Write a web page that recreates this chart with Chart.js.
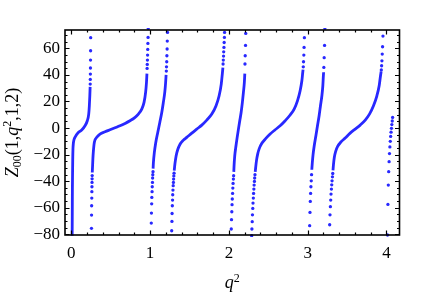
<!DOCTYPE html>
<html>
<head>
<meta charset="utf-8">
<script src="https://cdn.jsdelivr.net/npm/chart.js@4.4.1/dist/chart.umd.min.js"></script>
<style>
  html, body { margin: 0; padding: 0; background: #fff; }
</style>
</head>
<body>
<canvas id="zetaChart" width="429" height="293"></canvas>
<script>
// q^2 / Z00 values, one row per branch between poles.
// Curves: the parts where the dots run together into a solid line.
const curveQ = [
    [0.011, 0.012, 0.013, 0.014, 0.016, 0.018, 0.021, 0.026, 0.035, 0.050, 0.089, 0.132, 0.174, 0.203, 0.221, 0.229, 0.235, 0.239],
    [0.266, 0.270, 0.274, 0.279, 0.292, 0.323, 0.364, 0.428, 0.491, 0.555, 0.618, 0.682, 0.745, 0.809, 0.851, 0.894, 0.923, 0.943, 0.954, 0.960],
    [1.038, 1.042, 1.054, 1.072, 1.097, 1.123, 1.148, 1.168, 1.186, 1.197, 1.203],
    [1.306, 1.315, 1.330, 1.352, 1.380, 1.422, 1.465, 1.529, 1.592, 1.656, 1.719, 1.783, 1.837, 1.876, 1.903, 1.918, 1.924],
    [2.062, 2.065, 2.074, 2.090, 2.105, 2.121, 2.138, 2.155, 2.171, 2.184, 2.196, 2.202],
    [2.334, 2.340, 2.350, 2.365, 2.385, 2.418, 2.469, 2.523, 2.587, 2.650, 2.714, 2.777, 2.828, 2.870, 2.904, 2.926, 2.937, 2.941],
    [3.052, 3.058, 3.068, 3.083, 3.104, 3.124, 3.145, 3.162, 3.180, 3.192, 3.199, 3.202],
    [3.321, 3.327, 3.338, 3.355, 3.380, 3.421, 3.476, 3.539, 3.603, 3.666, 3.730, 3.784, 3.835, 3.878, 3.907, 3.924, 3.932]
];
const curveZ = [
    [-81, -68, -56, -45, -34, -24, -16, -11.5, -8.6, -6.6, -3.3, -1.5, 1.7, 5.5, 10.5, 16.8, 24.3, 31],
    [-33.5, -28.4, -23, -18.3, -10.8, -7.0, -4.5, -2.8, -1.3, 0.2, 1.7, 3.5, 5.5, 8.0, 10.5, 14.3, 19.3, 26.8, 34.3, 41],
    [-30.5, -25.9, -18.3, -10.8, -3.3, 4.2, 11.7, 19.3, 26.8, 34.3, 40],
    [-32, -27, -21, -16, -12.2, -9.1, -7.0, -3.8, -0.8, 2.2, 6.0, 10.5, 16.8, 24.3, 33.1, 41.8, 45.5],
    [-33, -29, -21, -13.3, -7.0, -0.8, 5.5, 11.7, 19.3, 26.8, 34.3, 41],
    [-33, -29.5, -24.5, -19.6, -15.5, -11.5, -7.8, -4.5, -1.3, 1.7, 5.5, 9.8, 14.3, 20.5, 28.1, 35.6, 41.8, 44],
    [-31.4, -26.5, -20, -13.3, -5.8, 1.7, 9.3, 16.8, 24.3, 31.8, 39.4, 42],
    [-31.8, -27.5, -22, -17.5, -13.8, -10.5, -7.5, -3.8, -0.8, 2.2, 6.0, 10.5, 16.8, 24.3, 31.8, 39.4, 42.5]
];

// Separate dots near the poles
const dotQ = [
    [0.240, 0.241, 0.242, 0.243, 0.244, 0.245, 0.246],
    [0.256, 0.257, 0.258, 0.260, 0.261, 0.262, 0.263, 0.264, 0.265],
    [0.962, 0.964, 0.966, 0.968, 0.970, 0.972, 0.974, 0.976],
    [1.015, 1.017, 1.020, 1.022, 1.025, 1.027, 1.030, 1.032, 1.034, 1.037],
    [1.206, 1.208, 1.211, 1.213, 1.216, 1.218, 1.221],
    [1.274, 1.277, 1.279, 1.282, 1.285, 1.287, 1.290, 1.293, 1.296, 1.298, 1.301, 1.304],
    [1.926, 1.929, 1.932, 1.934, 1.937, 1.940, 1.943, 1.945],
    [2.030, 2.033, 2.037, 2.040, 2.043, 2.047, 2.050, 2.053, 2.057, 2.060],
    [2.204, 2.207, 2.211, 2.214],
    [2.289, 2.292, 2.296, 2.299, 2.303, 2.306, 2.310, 2.313, 2.317, 2.320, 2.324, 2.327, 2.331],
    [2.944, 2.947, 2.951, 2.954, 2.958],
    [3.025, 3.029, 3.033, 3.037, 3.041, 3.045, 3.049],
    [3.205, 3.209, 3.214, 3.218],
    [3.279, 3.283, 3.288, 3.292, 3.296, 3.301, 3.305, 3.309, 3.314, 3.318],
    [3.934, 3.938, 3.942, 3.946, 3.950, 3.955],
    [4.013, 4.018, 4.023, 4.028, 4.033, 4.038, 4.043, 4.048, 4.053, 4.058, 4.063, 4.068, 4.073, 4.078]
];
const dotZ = [
    [33.1, 36.6, 40.6, 45.2, 51.2, 58.2, 68],
    [-75.5, -65.5, -58.5, -52.7, -47.9, -44.2, -40.9, -38.2, -35.8],
    [44.9, 47.9, 51.2, 54.9, 59.2, 63.7, 68.2, 75.1],
    [-71.5, -64, -57, -52.2, -47.9, -44.2, -40.9, -37.6, -35.1, -32.9],
    [42.9, 46.1, 49.9, 54.4, 59.5, 65.5, 72.0],
    [-77.3, -70.3, -64.3, -58.5, -54.2, -50.2, -46.7, -43.4, -40.9, -38.4, -36, -34],
    [48.2, 51.2, 54.2, 57.4, 60.7, 64.4, 68.2, 72],
    [-76, -69, -63, -57.7, -53.4, -49.2, -45.2, -41.7, -38.4, -35.9],
    [48.2, 54.4, 62.2, 71.2],
    [-81, -76, -70.5, -65.3, -60.5, -56.5, -52.7, -49.2, -45.9, -42.9, -40.2, -37.6, -35.1],
    [46.1, 49.9, 54.9, 60.7, 68],
    [-73.5, -63.5, -55.2, -49.2, -44.2, -39.7, -35.1],
    [45.6, 53, 62.2, 75.1],
    [-72.8, -65.3, -59.2, -54.2, -49.7, -45.9, -42.7, -39.7, -36.7, -34.2],
    [43.7, 46.9, 50.6, 55.7, 61.2, 69.2],
    [-80.5, -57.5, -42.9, -32.8, -25.3, -19.2, -14.2, -10, -6.3, -3.1, -0.2, 2.6, 5.3, 8.0]
];

const xTickLabels = [0, 1, 2, 3, 4];
const yTickLabels = [-80, -60, -40, -20, 0, 20, 40, 60];

const blue = 'rgb(40, 40, 255)';
const serif = "'Liberation Serif', 'Times New Roman', serif";

const datasets = [];
curveQ.forEach((qs, i) => {
    datasets.push({
        data: qs.map((q, j) => ({ x: q, y: curveZ[i][j] })),
        showLine: true,
        pointRadius: 0,
        borderColor: blue,
        borderWidth: 2.8,
        cubicInterpolationMode: 'monotone',
        clip: 2
    });
});
dotQ.forEach((qs, i) => {
    datasets.push({
        data: qs.map((q, j) => ({ x: q, y: dotZ[i][j] })),
        showLine: false,
        pointRadius: 1.65,
        pointBorderWidth: 0,
        pointBackgroundColor: blue,
        clip: 2
    });
});

// Draw text made of runs (italic letters, sub/superscripts) centred on (0, 0)
const drawRuns = (ctx, runs) => {
    let width = 0;
    runs.forEach(r => { ctx.font = r.font; width += ctx.measureText(r.t).width; });
    let x = -width / 2;
    runs.forEach(r => {
        ctx.font = r.font;
        ctx.fillText(r.t, x, r.dy || 0);
        x += ctx.measureText(r.t).width;
    });
};

// Mathematica style frame: box, inward ticks on all sides, axis labels
const framePlugin = {
    id: 'frame',
    afterDatasetsDraw(chart) {
        const { ctx, chartArea: a, scales: { x, y } } = chart;
        ctx.save();
        ctx.strokeStyle = '#000';
        ctx.lineWidth = 1.2;
        ctx.beginPath();
        const tickX = (v, len) => {
            const px = Math.round(x.getPixelForValue(v)) + 0.5;
            ctx.moveTo(px, a.bottom); ctx.lineTo(px, a.bottom - len);
            ctx.moveTo(px, a.top); ctx.lineTo(px, a.top + len);
        };
        const tickY = (v, len) => {
            const py = Math.round(y.getPixelForValue(v)) + 0.5;
            ctx.moveTo(a.left, py); ctx.lineTo(a.left + len, py);
            ctx.moveTo(a.right, py); ctx.lineTo(a.right - len, py);
        };
        for (let i = 0; i <= 20; i++) {
            const v = i * 0.2;
            if (i % 5 === 0) tickX(v, 4.5); else tickX(v, 2.5);
        }
        for (let v = -80; v <= 70; v += 5) {
            if (v % 20 === 0) tickY(v, 4.5); else tickY(v, 2.5);
        }
        ctx.stroke();
        ctx.lineWidth = 1.6;
        ctx.strokeRect(a.left, a.top, a.right - a.left, a.bottom - a.top);
        ctx.restore();
    },
    afterDraw(chart) {
        const { ctx, chartArea: a } = chart;
        ctx.save();
        ctx.fillStyle = '#000';
        ctx.textBaseline = 'alphabetic';
        ctx.textAlign = 'left';

        // x title: q^2
        ctx.save();
        ctx.translate((a.left + a.right) / 2, 288);
        drawRuns(ctx, [
            { t: 'q', font: `italic 18px ${serif}` },
            { t: '2', font: `12px ${serif}`, dy: -6 }
        ]);
        ctx.restore();

        // y title: Z00(1,q^2,1,2)
        ctx.save();
        ctx.translate(17.5, (a.top + a.bottom) / 2);
        ctx.rotate(-Math.PI / 2);
        drawRuns(ctx, [
            { t: 'Z', font: `italic 18px ${serif}` },
            { t: '00', font: `12px ${serif}`, dy: 3.5 },
            { t: '(1,', font: `18px ${serif}` },
            { t: 'q', font: `italic 18px ${serif}` },
            { t: '2', font: `12px ${serif}`, dy: -7 },
            { t: ',1,2)', font: `18px ${serif}` }
        ]);
        ctx.restore();
        ctx.restore();
    }
};

new Chart(document.getElementById('zetaChart'), {
    type: 'scatter',
    data: { datasets },
    options: {
        responsive: false,
        devicePixelRatio: 1,
        animation: false,
        events: [],
        layout: { padding: { left: 0, right: 29.5, top: 30, bottom: 0 } },
        plugins: {
            legend: { display: false },
            tooltip: { enabled: false }
        },
        scales: {
            x: {
                type: 'linear',
                min: -0.08,
                max: 4.165,
                grid: { display: false, drawTicks: false },
                border: { display: false },
                afterBuildTicks: (s) => { s.ticks = xTickLabels.map(v => ({ value: v })); },
                afterFit: (s) => { s.height = 58; },
                ticks: {
                    color: '#000',
                    padding: 8,
                    maxRotation: 0,
                    font: { family: serif, size: 17 },
                    callback: (v) => String(v)
                }
            },
            y: {
                type: 'linear',
                min: -80.5,
                max: 73.8,
                grid: { display: false, drawTicks: false },
                border: { display: false },
                afterBuildTicks: (s) => { s.ticks = yTickLabels.map(v => ({ value: v })); },
                afterFit: (s) => { s.width = 65; },
                ticks: {
                    color: '#000',
                    padding: 5,
                    font: { family: serif, size: 17 },
                    callback: (v) => v < 0 ? '\u2212' + Math.abs(v) : String(v)
                }
            }
        }
    },
    plugins: [framePlugin]
});
</script>
</body>
</html>
